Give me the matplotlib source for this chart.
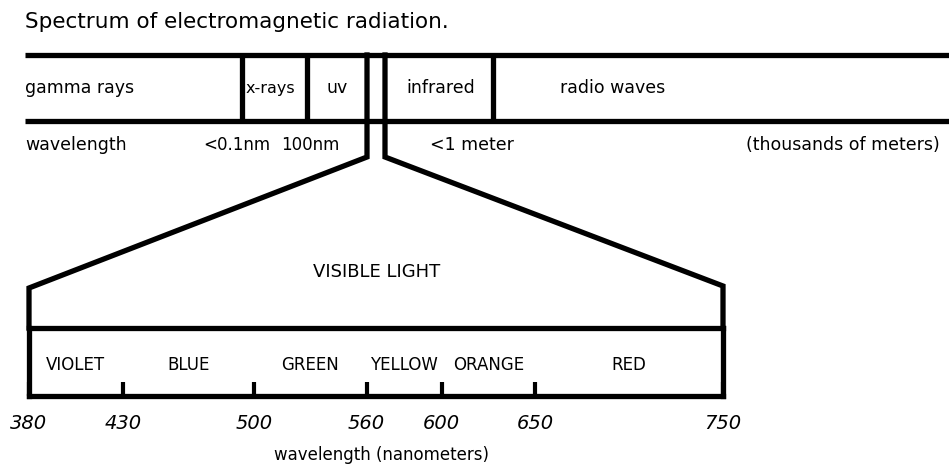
import matplotlib
matplotlib.use("Agg")
import matplotlib.pyplot as plt

# ---- data ----
title = "Spectrum of electromagnetic radiation."
band_names = ["gamma rays", "x-rays", "uv", "infrared", "radio waves"]
wavelength_marks = ["wavelength", "<0.1nm", "100nm", "<1 meter", "(thousands of meters)"]
visible_bounds = [380, 430, 500, 560, 600, 650, 750]
visible_colors = ["VIOLET", "BLUE", "GREEN", "YELLOW", "ORANGE", "RED"]
visible_title = "VISIBLE LIGHT"
visible_xlabel = "wavelength (nanometers)"

# ---- layout (pixel coordinates of the drawing) ----
W, H = 949, 470
LW = 3.8
bar_top, bar_bot = 55, 121
bar_left = 25
dividers = [242, 307, 493]
funnel_l, funnel_r = 367, 385
funnel_knee = 157
vis_left, vis_right = 29, 723
vis_top_l, vis_top_r = 288, 286
vis_mid, vis_bot = 328, 396

fig = plt.figure(figsize=(W / 100, H / 100), dpi=100)
ax = fig.add_axes([0, 0, 1, 1])
ax.set_xlim(0, W)
ax.set_ylim(H, 0)
ax.axis("off")

font = "DejaVu Sans"
ax.text(bar_left, 22, title, fontsize=15.5, va="center", ha="left", family=font)

# top bar
ax.plot([bar_left, W + 5], [bar_top, bar_top], color="black", lw=LW, solid_capstyle="butt")
ax.plot([bar_left, W + 5], [bar_bot, bar_bot], color="black", lw=LW, solid_capstyle="butt")
for x in dividers:
    ax.plot([x, x], [bar_top, bar_bot], color="black", lw=LW, solid_capstyle="butt")

# funnel to visible spectrum
ax.plot([funnel_l, funnel_l, vis_left, vis_left], [bar_top, funnel_knee, vis_top_l, vis_mid],
        color="black", lw=LW, solid_joinstyle="miter")
ax.plot([funnel_r, funnel_r, vis_right, vis_right], [bar_top, funnel_knee, vis_top_r, vis_mid],
        color="black", lw=LW, solid_joinstyle="miter")

band_x = [25, 246, 337, 406, 560]
band_ha = ["left", "left", "center", "left", "left"]
band_fs = [12.5, 11.5, 12.5, 12.5, 12.5]
for name, x, ha, fs in zip(band_names, band_x, band_ha, band_fs):
    ax.text(x, 88, name, fontsize=fs, va="center", ha=ha, family=font)

mark_x = [25, 203, 281, 430, 940]
mark_ha = ["left", "left", "left", "left", "right"]
mark_fs = [12.5, 12, 12, 12.5, 12.5]
for name, x, ha, fs in zip(wavelength_marks, mark_x, mark_ha, mark_fs):
    ax.text(x, 145, name, fontsize=fs, va="center", ha=ha, family=font)

ax.text(377, 272, visible_title, fontsize=13, va="center", ha="center", family=font)

# visible spectrum box as its own axes in nm
vax = fig.add_axes([vis_left / W, 1 - vis_bot / H, (vis_right - vis_left) / W, (vis_bot - vis_mid) / H])
vax.set_xlim(visible_bounds[0], visible_bounds[-1])
vax.set_ylim(0, 1)
for s in vax.spines.values():
    s.set_linewidth(LW)
vax.set_yticks([])
vax.set_xticks(visible_bounds)
vax.set_xticklabels([str(v) for v in visible_bounds], fontsize=14, style="italic", family=font)
vax.tick_params(axis="x", direction="in", length=10, width=3, pad=13)
for lo, hi, name in zip(visible_bounds[:-1], visible_bounds[1:], visible_colors):
    vax.text((lo + hi) / 2, 0.46, name, fontsize=12, ha="center", va="center", family=font)

ax.text(382, 455, visible_xlabel, fontsize=12, va="center", ha="center", family=font)

fig.savefig("out.png", dpi=100)
